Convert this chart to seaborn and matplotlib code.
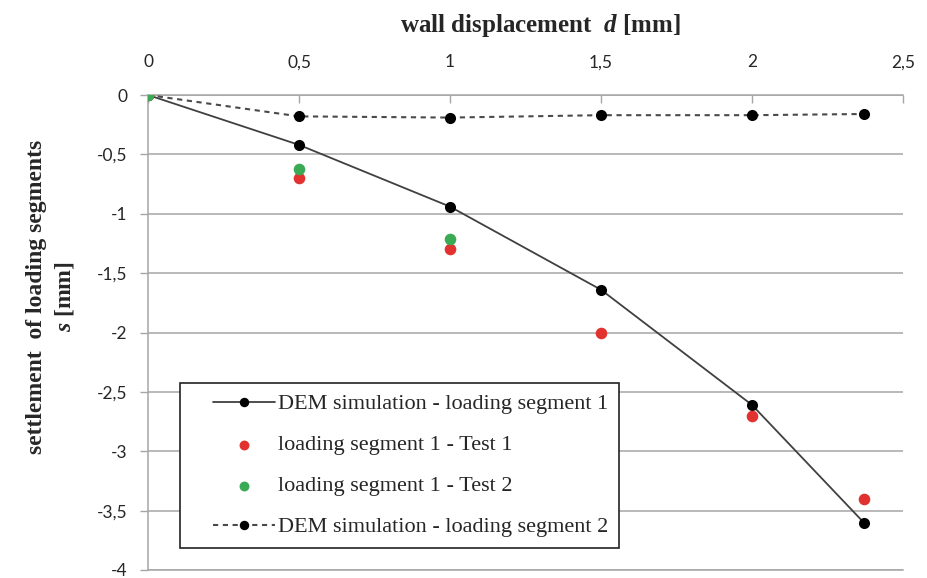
import matplotlib
matplotlib.use("Agg")
import matplotlib.pyplot as plt
import seaborn as sns
import numpy as np
from matplotlib.lines import Line2D
from matplotlib.collections import PathCollection
from matplotlib.legend_handler import HandlerLine2D, HandlerPathCollection

# ---- data ----
d_sim = [0, 0.5, 1.0, 1.5, 2.0, 2.37]
seg1_sim = [0, -0.42, -0.94, -1.64, -2.61, -3.60]
seg2_sim = [0, -0.18, -0.19, -0.17, -0.17, -0.16]
d_test1 = [0, 0.5, 1.0, 1.5, 2.0, 2.37]
test1 = [0, -0.70, -1.30, -2.00, -2.70, -3.40]
d_test2 = [0, 0.5, 1.0]
test2 = [0, -0.62, -1.21]

xticks = [0, 0.5, 1, 1.5, 2, 2.5]
xtick_labels = ['0', '0,5', '1', '1,5', '2', '2,5']
yticks = [0, -0.5, -1, -1.5, -2, -2.5, -3, -3.5, -4]
ytick_labels = ['0', '-0,5', '-1', '-1,5', '-2', '-2,5', '-3', '-3,5', '-4']

labels = ['DEM simulation - loading segment 1',
          'loading segment 1 - Test 1',
          'loading segment 1 - Test 2',
          'DEM simulation - loading segment 2']

sns.set_theme(style="white")
plt.rcParams['font.family'] = ['Liberation Serif', 'DejaVu Serif']
plt.rcParams['mathtext.fontset'] = 'custom'
plt.rcParams['mathtext.it'] = 'Liberation Serif:bold:italic'
plt.rcParams['mathtext.rm'] = 'Liberation Serif:bold'

fig = plt.figure(figsize=(9.28, 5.78), dpi=100)
ax = fig.add_axes([148/928, 1-570/578, (903-148)/928, (570-95)/578])

grey = '#a6a6a6'
red = '#e2322f'
green = '#3aaa55'

sns.lineplot(x=d_sim, y=seg1_sim, ax=ax, color='#404040', linewidth=1.3,
             marker='o', markersize=8, markerfacecolor='black',
             markeredgecolor='black', markeredgewidth=0, label=labels[0],
             sort=False, zorder=3)
sns.scatterplot(x=d_test1, y=test1, ax=ax, color=red, s=70, linewidth=0,
                label=labels[1], zorder=4)
sns.scatterplot(x=d_test2, y=test2, ax=ax, color=green, s=70, linewidth=0,
                label=labels[2], zorder=5)
sns.lineplot(x=d_sim, y=seg2_sim, ax=ax, color='#4a4a4a', linewidth=1.5,
             linestyle=(0, (2.5, 2.2)), marker='o', markersize=8,
             markerfacecolor='black', markeredgecolor='black',
             markeredgewidth=0, label=labels[3], sort=False, zorder=3)

ax.set_xlim(0, 2.5)
ax.set_ylim(-4, 0)

ax.xaxis.tick_top()
ax.xaxis.set_label_position('top')
ax.set_xticks(xticks, xtick_labels)
ax.set_yticks(yticks, ytick_labels)

for lab in ax.get_xticklabels() + ax.get_yticklabels():
    lab.set_fontfamily(['Lato', 'DejaVu Sans'])
    lab.set_fontsize(12.5)
    lab.set_color('#262626')
for lab in ax.get_xticklabels():
    lab.set_verticalalignment('baseline')

ax.tick_params(axis='x', direction='in', length=6, width=1, color=grey, pad=20,
               top=True, bottom=False)
ax.tick_params(axis='y', direction='out', length=6, width=1, color=grey, pad=9,
               left=True)

ax.yaxis.grid(True, color=grey, linewidth=1.1)
ax.xaxis.grid(False)
for side in ['top', 'left', 'bottom']:
    ax.spines[side].set_color(grey)
    ax.spines[side].set_linewidth(1.1)
ax.spines['right'].set_visible(False)

ax.set_xlabel(r'wall displacement  $d$ [mm]', fontsize=18, fontweight='bold')
ax.xaxis.set_label_coords((540-148)/755, 1 + (95-32)/475)
ax.set_ylabel('settlement  of loading segments\n' + r'$s$ [mm]', fontsize=17,
              fontweight='bold', linespacing=1.35)
ax.yaxis.set_label_coords((76-148)/755, (570-297)/475)

fs = 16
hmap = {Line2D: HandlerLine2D(xpad=1.0),
        PathCollection: HandlerPathCollection(xpad=1.0)}
leg = ax.legend(loc='lower left', bbox_to_anchor=(0.042, 0.046),
                fontsize=fs, frameon=True, fancybox=False, edgecolor='#222222',
                framealpha=1, handlelength=3.8, labelspacing=0.92,
                borderpad=0.48, handletextpad=0.14, borderaxespad=0,
                markerscale=0.85, handler_map=hmap)
leg.get_frame().set_linewidth(1.2)
leg.set_zorder(10)

fig.savefig('out.png', dpi=100)
